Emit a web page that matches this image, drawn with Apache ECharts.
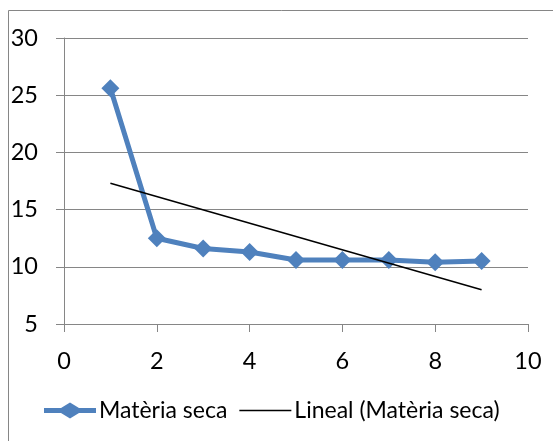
<!DOCTYPE html>
<html>
<head>
<meta charset="utf-8">
<script src="https://cdn.jsdelivr.net/npm/echarts@6/dist/echarts.min.js"></script>
<style>
html,body{margin:0;padding:0;background:#fff;}
#c{width:553px;height:441px;}
</style>
</head>
<body>
<div id="c"></div>
<script>
// Data
const xValues = [1, 2, 3, 4, 5, 6, 7, 8, 9];
const materiaSeca = [25.6, 12.5, 11.6, 11.3, 10.6, 10.6, 10.6, 10.4, 10.5];
const trendX = [1, 9];
const trendY = [17.3, 8.0];
const seriesNames = ['Matèria seca', 'Lineal (Matèria seca)'];

const FONT = 'Lato';
const FS = 23.5;
const GRAY = '#868686';

const chart = echarts.init(document.getElementById('c'), null, {renderer: 'canvas'});
chart.setOption({
  animation: false,
  backgroundColor: '#fff',
  textStyle: {fontFamily: FONT},
  graphic: [{
    type: 'rect',
    shape: {x: 8.5, y: 10.5, width: 700, height: 600},
    style: {fill: 'none', stroke: GRAY, lineWidth: 1},
    silent: true,
    z: -10
  }],
  grid: {left: 64, right: 25, top: 38, bottom: 117, containLabel: false},
  xAxis: {
    type: 'value', min: 0, max: 10, interval: 2,
    axisLine: {show: true, onZero: false, lineStyle: {color: GRAY, width: 1}},
    axisTick: {show: true, length: 8, lineStyle: {color: GRAY}},
    splitLine: {show: false},
    axisLabel: {color: '#000', fontSize: FS, fontFamily: FONT, margin: 25}
  },
  yAxis: {
    type: 'value', min: 5, max: 30, interval: 5,
    axisLine: {show: true, lineStyle: {color: GRAY, width: 1}},
    axisTick: {show: true, length: 8, lineStyle: {color: GRAY}},
    splitLine: {show: true, lineStyle: {color: GRAY, width: 1}},
    axisLabel: {color: '#000', fontSize: FS, fontFamily: FONT, margin: 26}
  },
  legend: {
    left: 39, top: 394,
    itemWidth: 52, itemHeight: 16, itemGap: 12,
    textStyle: {color: '#000', fontSize: 23, fontFamily: FONT, padding: [0, 0, 0, -2]},
    data: [
      {name: seriesNames[0], icon: 'path://M0,5.5 L17,5.5 L26,0 L35,5.5 L52,5.5 L52,10.5 L35,10.5 L26,16 L17,10.5 L0,10.5 Z'},
      {name: seriesNames[1], icon: 'path://M0,0 L48,0 L48,1.5 L0,1.5 Z'}
    ]
  },
  series: [
    {
      name: seriesNames[0], type: 'line',
      data: xValues.map((x, i) => [x, materiaSeca[i]]),
      symbol: 'diamond', symbolSize: 18,
      lineStyle: {color: '#4F81BD', width: 5},
      itemStyle: {color: '#4F81BD'},
      z: 3
    },
    {
      name: seriesNames[1], type: 'line',
      data: trendX.map((x, i) => [x, trendY[i]]),
      symbol: 'none',
      lineStyle: {color: '#000', width: 1.5},
      itemStyle: {color: '#000'},
      z: 4
    }
  ]
});
</script>
</body>
</html>
